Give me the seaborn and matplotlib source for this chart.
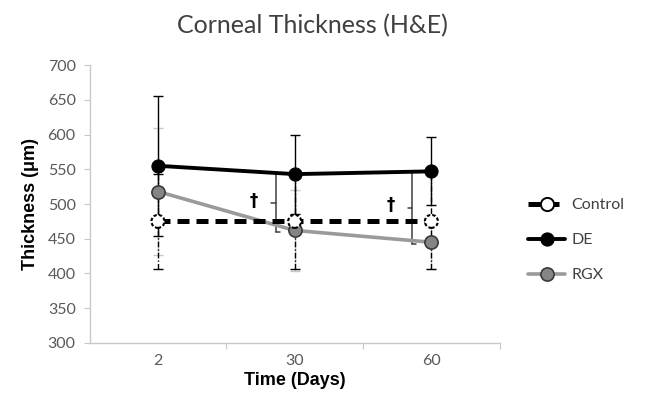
import matplotlib
matplotlib.use("Agg")
import matplotlib.pyplot as plt
import seaborn as sns
import numpy as np
from matplotlib.lines import Line2D

# ---- data ----
days = ["2", "30", "60"]
control = [475, 475, 475]
control_err = [68, 69, 69]
de = [555, 543, 547]
de_err = [101, 57, 49]
rgx = [518, 462, 445]
rgx_err = [91, 58, 39]
sig_idx = [1, 2]          # time points with dagger annotation
sig_mark = ["†", "†"]
yticks = [300, 350, 400, 450, 500, 550, 600, 650, 700]

sns.set_theme(style="white")
plt.rcParams['font.family'] = ['Lato', 'DejaVu Sans']

fig = plt.figure(figsize=(6.49, 4.09), dpi=100)
ax = fig.add_axes([0.138, 0.1614, 0.632, 0.6796])
x = np.arange(len(days))

# error bars
ax.errorbar(x, rgx, yerr=rgx_err, fmt='none', ecolor='#c8c8c8', elinewidth=1.0,
            capsize=3.5, capthick=1.0, zorder=1)
eb = ax.errorbar(x, control, yerr=control_err, fmt='none', ecolor='black', elinewidth=1.0,
                 capsize=3.5, capthick=1.0, zorder=1.2)
for lc in eb[2]:
    lc.set_linestyle((0, (4, 1.5, 1, 1.5)))
ax.errorbar(x, de, yerr=de_err, fmt='none', ecolor='black', elinewidth=1.0,
            capsize=3.5, capthick=1.0, zorder=1.1)

# lines
sns.lineplot(x=x, y=rgx, ax=ax, color='#9a9a9a', linewidth=2.6, zorder=2,
             marker='o', markersize=9.5, markerfacecolor='#858585',
             markeredgecolor='#3a3a3a', markeredgewidth=1.2, label='RGX')
sns.lineplot(x=x, y=control, ax=ax, color='black', linewidth=3.6, zorder=3,
             linestyle=(0, (2.4, 1.4)), label='Control')
ax.scatter(x, control, s=88, facecolor='white', edgecolor='black',
           linewidths=1.5, linestyle=(0, (1.6, 1.0)), zorder=5)
sns.lineplot(x=x, y=de, ax=ax, color='black', linewidth=2.8, zorder=4,
             marker='o', markersize=9.5, markerfacecolor='black',
             markeredgecolor='black', label='DE')

# significance brackets
for i, m in zip(sig_idx, sig_mark):
    bx = i - 0.14
    top, bot = de[i], rgx[i] - 3
    mid = (top + bot) / 2
    ax.plot([bx, bx], [top, bot], color='#404040', lw=1.1, zorder=1.5)
    ax.plot([bx, bx + 0.03], [bot, bot], color='#404040', lw=1.1, zorder=1.5)
    ax.plot([bx - 0.03, bx], [mid, mid], color='#404040', lw=1.1, zorder=1.5)
    ax.text(bx - 0.16, mid + 4, m, ha='center', va='center', fontsize=12,
            fontweight='bold', color='black', family=['DejaVu Sans'])

ax.set_xlim(-0.5, 2.5)
ax.set_ylim(300, 700)
ax.set_yticks(yticks)
ax.set_yticklabels([str(v) for v in yticks])
ax.set_xticks(x)
ax.set_xticklabels(days)
ax.set_xticks([0.5, 1.5, 2.5], minor=True)

for s in ['top', 'right']:
    ax.spines[s].set_visible(False)
ax.spines['left'].set_color('#c8c8c8')
ax.spines['bottom'].set_color('#c8c8c8')
ax.spines['left'].set_linewidth(1.0)
ax.spines['bottom'].set_linewidth(1.0)

ax.tick_params(axis='y', which='major', direction='out', length=4, width=0.8,
               color='#c8c8c8', labelsize=11.5, labelcolor='#595959', pad=6, left=True)
ax.tick_params(axis='x', which='major', length=0, labelsize=11.5,
               labelcolor='#595959', pad=8)
ax.tick_params(axis='x', which='minor', direction='out', length=4, width=0.8,
               color='#c8c8c8', bottom=True)

ax.set_xlabel("Time (Days)", fontsize=13, fontweight='bold',
              family=['Liberation Sans'], labelpad=3, color='black')
ax.set_ylabel("Thickness (\u03bcm)", fontsize=13, fontweight='bold',
              family=['Liberation Sans'], labelpad=6, color='black')

fig.text(0.482, 0.937, "Corneal Thickness (H&E)", ha='center', va='center',
         fontsize=18, color='#404040')

handles, labels = ax.get_legend_handles_labels()
hmap = dict(zip(labels, handles))
h_control = Line2D([], [], color='black', lw=3.6, linestyle=(0, (2.4, 1.4)),
                   marker='o', markersize=9.5, markerfacecolor='white',
                   markeredgecolor='black', markeredgewidth=1.4)
leg = ax.legend([h_control, hmap['DE'], hmap['RGX']], ['Control', 'DE', 'RGX'],
                loc='center left', bbox_to_anchor=(1.035, 0.37), frameon=False,
                fontsize=11.5, handlelength=2.3, handletextpad=0.4,
                labelspacing=1.3, labelcolor='#404040')

fig.savefig("out.png", dpi=100)
